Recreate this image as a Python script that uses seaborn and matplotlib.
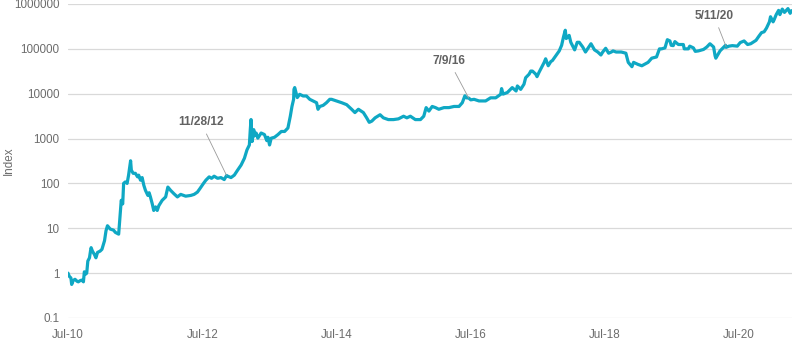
import matplotlib
matplotlib.use("Agg")
import matplotlib.pyplot as plt
import matplotlib.ticker as mticker
import seaborn as sns
import pandas as pd

# ---- data (index, log scale) ----
dates = [
    "2010-07-18", "2010-07-25", "2010-08-03", "2010-08-07", "2010-08-15", "2010-08-25",
    "2010-09-05", "2010-09-12", "2010-09-22", "2010-10-01", "2010-10-10", "2010-10-15",
    "2010-10-22", "2010-10-28", "2010-11-03", "2010-11-12", "2010-11-18", "2010-11-21",
    "2010-11-28", "2010-12-09", "2010-12-17", "2010-12-26", "2011-01-09", "2011-01-19",
    "2011-01-27", "2011-02-02", "2011-02-10", "2011-02-18", "2011-03-05", "2011-03-23",
    "2011-04-02", "2011-04-20", "2011-04-25", "2011-05-04", "2011-05-12", "2011-05-17",
    "2011-05-26", "2011-06-05", "2011-06-13", "2011-06-19", "2011-06-24", "2011-06-28",
    "2011-07-08", "2011-07-20", "2011-08-01", "2011-08-07", "2011-08-17", "2011-08-26",
    "2011-09-04", "2011-09-13", "2011-09-26", "2011-10-03", "2011-10-10", "2011-10-20",
    "2011-10-28", "2011-11-07", "2011-11-16", "2011-11-25", "2011-12-13", "2012-01-01",
    "2012-01-13", "2012-01-28", "2012-02-15", "2012-03-05", "2012-03-23", "2012-04-19",
    "2012-05-17", "2012-06-04", "2012-06-22", "2012-07-06", "2012-07-25", "2012-08-07",
    "2012-08-25", "2012-09-07", "2012-09-21", "2012-10-10", "2012-10-28", "2012-11-15",
    "2012-11-28", "2012-12-04", "2012-12-22", "2013-01-09", "2013-01-27", "2013-02-15",
    "2013-03-05", "2013-03-19", "2013-04-01", "2013-04-06", "2013-04-10", "2013-04-16",
    "2013-04-25", "2013-04-28", "2013-05-08", "2013-05-17", "2013-06-04", "2013-06-22",
    "2013-07-05", "2013-07-11", "2013-07-20", "2013-07-29", "2013-08-16", "2013-09-04",
    "2013-09-22", "2013-10-10", "2013-10-28", "2013-11-10", "2013-11-19", "2013-11-28",
    "2013-11-30", "2013-12-04", "2013-12-10", "2013-12-18", "2013-12-31", "2014-01-19",
    "2014-02-06", "2014-02-24", "2014-03-14", "2014-04-02", "2014-04-10", "2014-04-20",
    "2014-05-08", "2014-05-26", "2014-06-13", "2014-06-23", "2014-07-20", "2014-08-17",
    "2014-09-13", "2014-10-10", "2014-10-28", "2014-11-16", "2014-12-13", "2014-12-31",
    "2015-01-14", "2015-01-28", "2015-02-15", "2015-03-14", "2015-04-01", "2015-04-28",
    "2015-05-26", "2015-06-22", "2015-07-20", "2015-08-07", "2015-08-26", "2015-09-22",
    "2015-10-20", "2015-11-07", "2015-11-20", "2015-12-05", "2015-12-23", "2016-01-10",
    "2016-01-28", "2016-02-25", "2016-03-23", "2016-04-20", "2016-05-17", "2016-06-04",
    "2016-06-18", "2016-06-26", "2016-07-09", "2016-07-20", "2016-08-07", "2016-09-03",
    "2016-10-09", "2016-11-05", "2016-12-03", "2016-12-30", "2017-01-04", "2017-01-12",
    "2017-02-04", "2017-03-03", "2017-03-24", "2017-03-31", "2017-04-18", "2017-05-06",
    "2017-05-15", "2017-06-03", "2017-06-12", "2017-06-21", "2017-07-09", "2017-07-16",
    "2017-07-27", "2017-08-24", "2017-09-01", "2017-09-15", "2017-09-29", "2017-10-08",
    "2017-10-26", "2017-11-14", "2017-11-27", "2017-12-08", "2017-12-17", "2017-12-22",
    "2017-12-29", "2018-01-07", "2018-01-16", "2018-02-06", "2018-02-20", "2018-03-03",
    "2018-03-22", "2018-04-06", "2018-05-06", "2018-05-25", "2018-06-12", "2018-06-29",
    "2018-07-09", "2018-07-25", "2018-08-10", "2018-08-25", "2018-09-03", "2018-09-20",
    "2018-10-18", "2018-11-12", "2018-11-25", "2018-12-15", "2018-12-24", "2019-01-17",
    "2019-02-07", "2019-03-13", "2019-04-02", "2019-04-28", "2019-05-14", "2019-05-25",
    "2019-06-13", "2019-06-26", "2019-07-10", "2019-07-17", "2019-07-28", "2019-08-06",
    "2019-08-25", "2019-09-21", "2019-09-26", "2019-10-18", "2019-10-26", "2019-11-15",
    "2019-11-25", "2019-12-12", "2020-01-09", "2020-01-27", "2020-02-13", "2020-03-04",
    "2020-03-12", "2020-03-16", "2020-04-08", "2020-05-08", "2020-05-11", "2020-05-27",
    "2020-06-14", "2020-07-11", "2020-07-27", "2020-08-17", "2020-09-05", "2020-09-22",
    "2020-10-21", "2020-11-05", "2020-11-20", "2020-12-04", "2020-12-17", "2021-01-02",
    "2021-01-08", "2021-01-22", "2021-01-28", "2021-02-08", "2021-02-21", "2021-02-28",
    "2021-03-13", "2021-03-25", "2021-04-13", "2021-04-25", "2021-05-02",
]
index_values = [
    1.0, 0.85, 0.78, 0.56, 0.68, 0.73,
    0.66, 0.64, 0.68, 0.70, 0.64, 1.07,
    0.95, 1.0, 1.86, 2.2, 3.2, 3.7,
    3.1, 2.6, 2.2, 2.9, 3.1, 3.4,
    4.4, 5.3, 8.8, 11.4, 9.6, 9.1,
    8.1, 7.4, 13.6, 42, 35, 100,
    108, 100, 153, 234, 320, 198,
    168, 168, 140, 153, 118, 135,
    91, 70, 54, 62, 50, 35,
    25, 30, 25, 32, 42, 50,
    83, 70, 59, 50, 57, 52,
    54, 57, 64, 77, 100, 118,
    140, 130, 145, 130, 135, 122,
    150, 145, 135, 153, 198, 257,
    364, 560, 720, 1580, 2660, 860,
    1580, 1150, 1330, 1020, 1330, 1230,
    900, 1070, 720, 1020, 1070, 1230,
    1440, 1440, 1720, 3150, 5200, 7500,
    12500, 13700, 11000, 8200, 9700, 8900,
    8900, 7500, 6900, 6300, 4500, 5200,
    5500, 6300, 7500, 7500, 6900, 6300,
    5700, 4500, 3800, 4500, 3800, 2900,
    2300, 2450, 2900, 3400, 2900, 2650,
    2650, 2750, 3150, 2900, 3150, 2650,
    2650, 3150, 4900, 4100, 5200, 4900,
    4500, 4900, 4900, 5200, 5200, 6300,
    9000, 8100, 8000, 7300, 7500, 6900,
    6900, 8100, 8100, 9700, 13000, 9800,
    10600, 13700, 11500, 14900, 12500, 16300,
    22700, 27300, 32000, 32000, 27300, 24000,
    30000, 50000, 60000, 42000, 52000, 55000,
    70000, 90000, 120000, 190000, 260000, 170000,
    180000, 200000, 140000, 95000, 140000, 140000,
    110000, 85000, 130000, 95000, 85000, 73000,
    85000, 103000, 80000, 85000, 90000, 85000,
    85000, 80000, 50000, 40000, 50000, 45000,
    42000, 50000, 62000, 66000, 100000, 100000,
    105000, 160000, 150000, 120000, 118000, 145000,
    125000, 125000, 100000, 100000, 115000, 105000,
    88000, 90000, 97000, 110000, 130000, 110000,
    70000, 62000, 90000, 120000, 108000, 115000,
    118000, 115000, 138000, 150000, 125000, 130000,
    155000, 190000, 230000, 240000, 290000, 400000,
    520000, 400000, 450000, 580000, 720000, 580000,
    770000, 650000, 790000, 620000, 710000,
]

# halving annotations
note_labels = ["11/28/12", "7/9/16", "5/11/20"]
note_dates = ["2012-11-28", "2016-07-09", "2020-05-11"]
note_values = [150, 8000, 112000]
note_text_dates = ["2012-07-10", "2016-03-23", "2020-03-06"]
note_text_values = [2320, 54300, 546000]

tick_dates = ["2010-07-18", "2012-07-18", "2014-07-18", "2016-07-18", "2018-07-18", "2020-07-18"]
tick_labels = ["Jul-10", "Jul-12", "Jul-14", "Jul-16", "Jul-18", "Jul-20"]
y_ticks = [0.1, 1, 10, 100, 1000, 10000, 100000, 1000000]
y_tick_labels = ["0.1", "1", "10", "100", "1000", "10000", "100000", "1000000"]

df = pd.DataFrame({"Date": pd.to_datetime(dates), "Index": index_values})

sns.set_theme(style="white")
plt.rcParams["font.family"] = ["Liberation Sans", "DejaVu Sans"]

W, H = 792, 344
fig = plt.figure(figsize=(W / 100, H / 100), dpi=100)
ax = fig.add_axes([68 / W, 1 - 318 / H, (792 - 68) / W, (318 - 4) / H])

LINE = "#0FA8C4"
sns.lineplot(data=df, x="Date", y="Index", ax=ax, color=LINE, linewidth=2.3)

ax.set_yscale("log")
ax.set_ylim(0.1, 1000000)
ax.set_xlim(pd.Timestamp("2010-07-18"), pd.Timestamp("2021-05-05"))

ax.yaxis.set_major_locator(mticker.FixedLocator(y_ticks))
ax.yaxis.set_minor_locator(mticker.NullLocator())
ax.set_yticklabels(y_tick_labels)
ax.set_xticks(pd.to_datetime(tick_dates))
ax.set_xticklabels(tick_labels)

ax.grid(axis="y", color="#d9d9d9", linewidth=0.9)
ax.grid(axis="x", visible=False)
ax.set_axisbelow(True)
for s in ax.spines.values():
    s.set_visible(False)

TXT = "#6d6d6d"
ax.tick_params(axis="both", length=0, labelsize=8.4, colors=TXT)
ax.tick_params(axis="y", pad=6)
ax.tick_params(axis="x", pad=8)
ax.set_xlabel("")
ax.set_ylabel("")
fig.text(9 / W, 1 - 161 / H, "Index", rotation=90, ha="center", va="center",
         fontsize=8.4, color=TXT)

for lab, d, v, td, tv in zip(note_labels, note_dates, note_values, note_text_dates, note_text_values):
    ax.annotate(lab, xy=(pd.Timestamp(d), v), xytext=(pd.Timestamp(td), tv),
                ha="center", va="center", fontsize=8.6, fontweight="bold", color="#626262",
                arrowprops=dict(arrowstyle="-", color="#9a9a9a", lw=0.6,
                                shrinkA=2, shrinkB=0))

fig.savefig("out.png", dpi=100, facecolor="white")
